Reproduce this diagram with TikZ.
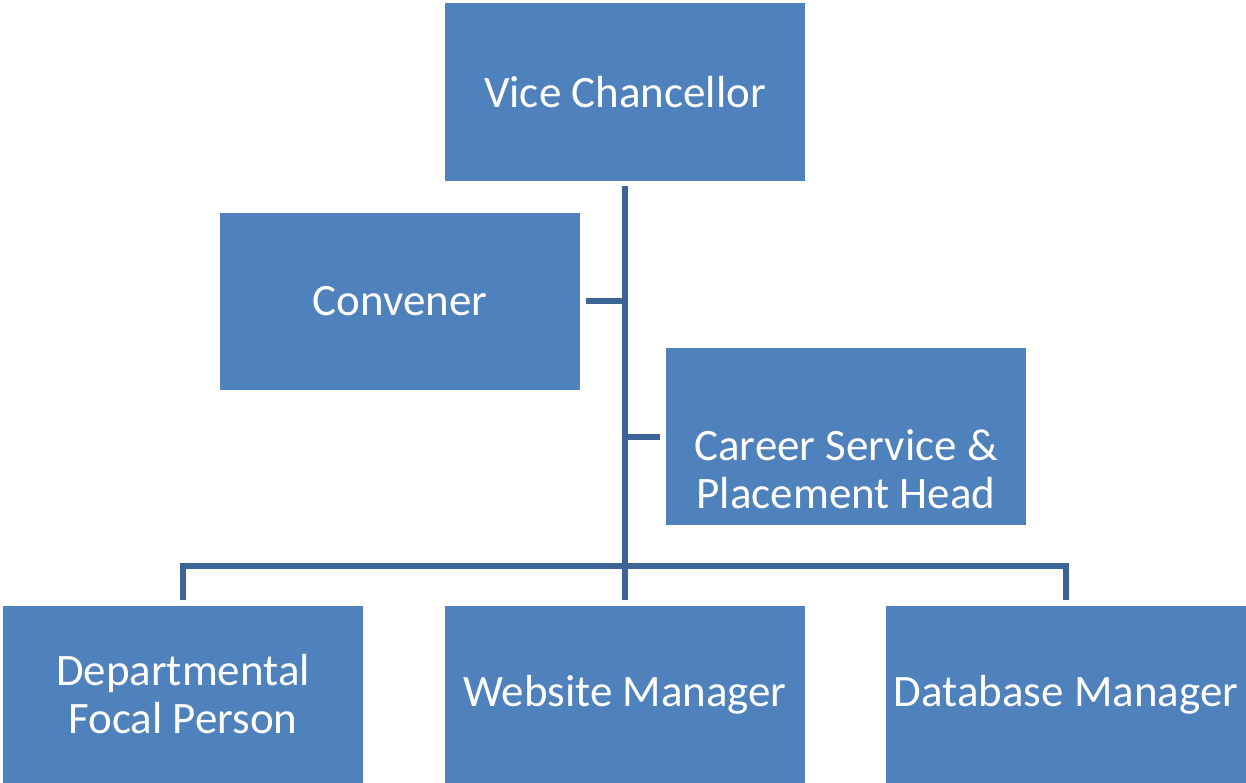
\documentclass[tikz,border=0pt]{standalone}
\usepackage{fontspec}
\setmainfont{Carlito}
\usetikzlibrary{calc}

\definecolor{unitblue}{HTML}{4F81BD}
\definecolor{linkblue}{HTML}{3C6595}

\begin{document}
\begin{tikzpicture}[x=0.02cm,y=-0.02cm,
    unit/.style={fill=unitblue,draw=none,text=white,inner sep=0pt,align=center,
      minimum width=7.2cm,minimum height=3.56cm,font=\fontsize{25.6}{27.3}\selectfont},
    link/.style={draw=linkblue,line width=0.12cm,line join=miter}]
  \useasboundingbox (0,0) rectangle (1246,783);
  % top of the tree
  \node[unit] (vc) at (625,92) {Vice Chancellor};
  \node[unit] (conv) at (400,301.5) {Convener};
  \node[unit] (career) at (846,436.5) {};
  \node[unit,fill=none,minimum height=0pt] (careertext) at ($(career.center)+(0,33)$) {Career Service \&\\Placement Head};
  % bottom row
  \node[unit] (dept) at (183,694.5) {Departmental\\Focal Person};
  \node[unit] (web) at (625,694.5) {Website Manager};
  \node[unit] (db) at (1066,694.5) {Database Manager};
  % connectors
  \coordinate (bus) at (625,566);
  \draw[link] ($(vc.south)+(0,5)$) -- ($(web.north)+(0,-5)$);
  \draw[link] ($(conv.east)+(6,0)$) -- (conv.east -| vc.south);
  \draw[link] ($(career.west)+(-6,0)$) -- (career.west -| vc.south);
  \draw[link] ($(dept.north)+(0,-5)$) |- (bus) -| ($(db.north)+(0,-5)$);
\end{tikzpicture}
\end{document}
